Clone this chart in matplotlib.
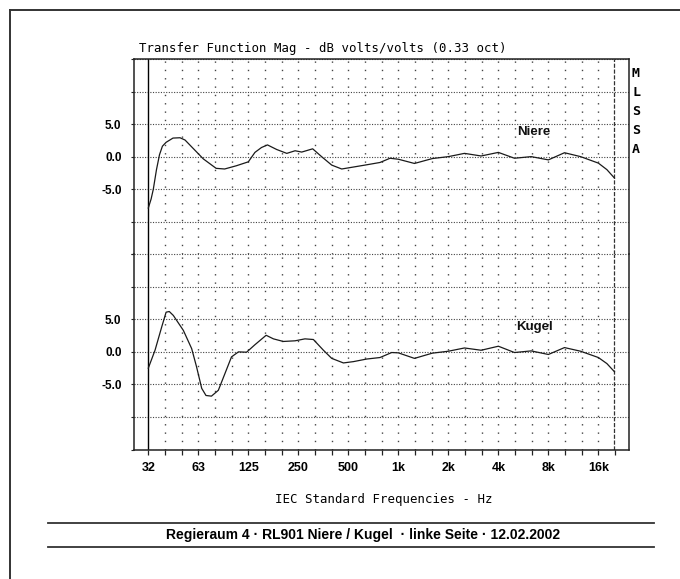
import matplotlib
matplotlib.use("Agg")
import matplotlib.pyplot as plt
from matplotlib.lines import Line2D
from matplotlib.ticker import FixedLocator, FixedFormatter, NullFormatter

plt.rcParams['lines.scale_dashes'] = False

# ---------------- data ----------------
niere_freq = [31.25, 32.5, 33.5, 35, 36.5, 38, 40, 44, 48.5, 52, 58, 67, 80, 90, 106, 125,
              137, 150, 163, 185, 213, 239, 262, 305, 345, 397, 456, 536, 630, 775, 891,
              1000, 1250, 1600, 2000, 2500, 3150, 4000, 5000, 6300, 8000, 10000, 12500,
              16000, 18000, 20000]
niere_db = [-7.9, -6.5, -5.0, -2.0, 0.3, 1.6, 2.2, 2.85, 2.9, 2.55, 1.3, -0.35, -1.8, -1.9,
            -1.4, -0.8, 0.65, 1.4, 1.8, 1.1, 0.5, 0.9, 0.7, 1.2, 0.0, -1.3, -1.9, -1.6, -1.3,
            -0.9, -0.25, -0.4, -1.05, -0.3, 0.0, 0.5, 0.1, 0.65, -0.25, 0.0, -0.5, 0.6, 0.0,
            -1.0, -2.0, -3.3]

kugel_freq = [31.25, 34.3, 37.6, 40, 41.8, 44.2, 50.8, 57, 61, 65.5, 69.5, 75, 82.5, 90.5,
              99, 109, 122, 137, 160, 177, 203, 239, 274, 308, 354, 397, 467, 536, 645, 775,
              912, 1000, 1250, 1600, 2000, 2500, 3150, 4000, 5000, 6300, 8000, 10000, 12500,
              16000, 18000, 20000]
kugel_db = [-2.5, 0.25, 3.8, 6.1, 6.2, 5.6, 3.3, 0.5, -2.3, -5.6, -6.7, -6.8, -5.9, -3.3,
            -0.77, 0.0, -0.05, 1.1, 2.55, 2.0, 1.6, 1.7, 2.0, 1.9, 0.25, -1.0, -1.7, -1.5,
            -1.1, -0.87, -0.1, -0.15, -1.0, -0.2, 0.1, 0.6, 0.25, 0.87, -0.1, 0.15, -0.4,
            0.66, 0.1, -0.87, -1.8, -3.06]

octave_ticks = [31.25, 62.5, 125, 250, 500, 1000, 2000, 4000, 8000, 16000]
octave_labels = ["32", "63", "125", "250", "500", "1k", "2k", "4k", "8k", "16k"]
third_octaves = [31.25 * 2 ** (k / 3) for k in range(0, 29)]
y_ticks = [-15, -10, -5, 0, 5, 10, 15]
y_labels = ["", "", "-5.0", "0.0", "5.0", "", ""]

title = "Transfer Function Mag - dB volts/volts (0.33 oct)"
xlabel = "IEC Standard Frequencies - Hz"
caption = "Regieraum 4 \u00b7 RL901 Niere / Kugel  \u00b7 linke Seite \u00b7 12.02.2002"
side_letters = ["M", "L", "S", "S", "A"]

# ---------------- figure ----------------
W, H = 680, 579
fig = plt.figure(figsize=(W / 100, H / 100), dpi=100)
fig.patch.set_facecolor("white")

def fx(x):
    return x / W

def fy(y):
    return 1 - y / H

left_px, right_px, top_px, bot_px = 134, 629, 59, 449.5
mid_px = (top_px + bot_px) / 2
ax_top = fig.add_axes([fx(left_px), fy(mid_px), fx(right_px - left_px), (mid_px - top_px) / H])
ax_bot = fig.add_axes([fx(left_px), fy(bot_px), fx(right_px - left_px), (bot_px - mid_px) / H])

xmin = 31.25 * 2 ** (-0.286)
xmax = 20000 * 2 ** (0.29)
mono = "DejaVu Sans Mono"
sans = "Liberation Sans"
edge = "#222222"

for ax, fr, db in ((ax_top, niere_freq, niere_db), (ax_bot, kugel_freq, kugel_db)):
    ax.set_xscale("log", base=2)
    ax.set_xlim(xmin, xmax)
    ax.set_ylim(-15, 15)
    for f in third_octaves[1:-1]:
        ax.axvline(f, color="#444444", lw=1.0, dashes=(1.0, 5.0), zorder=1)
    ax.axvline(31.25, color="black", lw=1.0, zorder=2)
    ax.axvline(20000, color="#333333", lw=0.9, dashes=(3.0, 1.2), zorder=2)
    ax.yaxis.set_major_locator(FixedLocator(y_ticks))
    ax.yaxis.set_major_formatter(FixedFormatter(y_labels))
    ax.grid(axis="y", color="#444444", lw=0.8, dashes=(0.8, 1.1), zorder=1)
    ax.tick_params(axis="y", which="both", direction="out", length=2.5, width=0.8,
                   color=edge, pad=6.5, labelsize=8.5)
    for lab in ax.get_yticklabels():
        lab.set_fontfamily(sans)
        lab.set_fontweight("bold")
    ax.plot(fr, db, color="#1a1a1a", lw=0.9, zorder=3)
    for s in ax.spines.values():
        s.set_color(edge)
        s.set_linewidth(1.1)

ax_top.spines["bottom"].set_visible(False)
ax_bot.spines["top"].set_visible(False)

ax_top.xaxis.set_major_locator(FixedLocator(octave_ticks))
ax_top.xaxis.set_minor_locator(FixedLocator(third_octaves))
ax_top.xaxis.set_major_formatter(NullFormatter())
ax_top.xaxis.set_minor_formatter(NullFormatter())
ax_top.tick_params(axis="x", which="both", length=0)

ax_bot.xaxis.set_major_locator(FixedLocator(octave_ticks))
ax_bot.xaxis.set_major_formatter(FixedFormatter(octave_labels))
ax_bot.xaxis.set_minor_locator(FixedLocator(third_octaves))
ax_bot.xaxis.set_minor_formatter(NullFormatter())
ax_bot.tick_params(axis="x", which="both", direction="out", length=3.8, width=0.9,
                   color=edge, pad=5.5, labelsize=9)
for lab in ax_bot.get_xticklabels():
    lab.set_fontfamily(sans)
    lab.set_fontweight("bold")

ax_top.text(6544, 3.75, "Niere", ha="center", va="center", fontsize=9.5,
            fontweight="bold", family=sans, color="#111111")
ax_bot.text(6640, 3.75, "Kugel", ha="center", va="center", fontsize=9.5,
            fontweight="bold", family=sans, color="#111111")

# ---------------- texts ----------------
fig.text(fx(139.3), fy(52), title, ha="left", va="baseline", family=mono, fontsize=8.9)
fig.text(fx(384), fy(500), xlabel, ha="center", va="center", family=mono, fontsize=8.9)
for i, ch in enumerate(side_letters):
    fig.text(fx(636), fy(73.3 + i * 19), ch, ha="center", va="center", family=mono,
             fontsize=9.5, fontweight="bold")

fig.text(fx(362.5), fy(535), caption, ha="center", va="center", family=sans,
         fontsize=10, fontweight="bold")
for yy in (523, 547):
    fig.add_artist(Line2D([fx(48), fx(654)], [fy(yy), fy(yy)], color="#333333", lw=1.3))

# outer frame (top and left)
fig.add_artist(Line2D([fx(9.5), 1.0], [fy(9.5), fy(9.5)], color="#333333", lw=1.4))
fig.add_artist(Line2D([fx(9.5), fx(9.5)], [0.0, fy(9.5)], color="#333333", lw=1.4))

fig.savefig("out.png", dpi=100, facecolor="white")
